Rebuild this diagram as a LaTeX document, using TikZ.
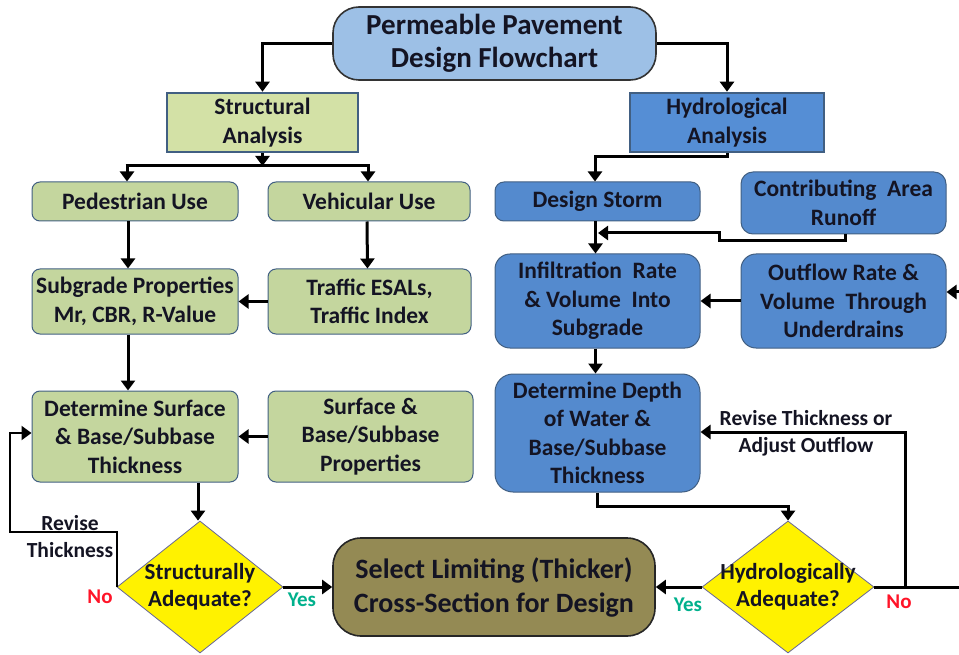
\documentclass[tikz,border=0pt]{standalone}
\usepackage{fontspec}
\setmainfont{Carlito}
\usetikzlibrary{shapes.geometric,arrows.meta}
\definecolor{titleblue}{RGB}{157,192,230}
\definecolor{lightgreen}{RGB}{211,225,166}
\definecolor{midgreen}{RGB}{196,214,158}
\definecolor{hydroblue}{RGB}{85,142,213}
\definecolor{boxblue}{RGB}{84,138,206}
\definecolor{olive}{RGB}{148,138,84}
\definecolor{edgeblue}{RGB}{65,95,130}
\definecolor{yesgreen}{RGB}{0,176,140}
\definecolor{nored}{RGB}{255,20,40}
\definecolor{ink}{RGB}{20,20,35}
\tikzset{
  base/.style={inner sep=0pt, align=center, font=\fontsize{23.5}{28.5}\selectfont\bfseries, text=ink},
  titlebox/.style={base, fill=titleblue, draw=black!80, line width=1.6pt, rounded corners=26pt,
     font=\fontsize{29}{33}\selectfont\bfseries},
  headgreen/.style={base, fill=lightgreen, draw=edgeblue, line width=2.6pt},
  headblue/.style={base, fill=hydroblue, draw=edgeblue, line width=2.6pt},
  greenbox/.style={base, fill=midgreen, draw=edgeblue, line width=1pt, rounded corners=8pt},
  bluebox/.style={base, fill=boxblue, draw=edgeblue, line width=1pt, rounded corners=12pt},
  selbox/.style={base, fill=olive, draw=black!85, line width=1.6pt, rounded corners=28pt,
     font=\fontsize{28}{34}\selectfont\bfseries},
  decide/.style={diamond, fill=yellow, draw=gray!80!blue, line width=0.8pt, inner sep=0pt},
  dtext/.style={align=center, inner sep=0pt, font=\fontsize{23}{27}\selectfont\bfseries, text=ink},
  arr/.style={line width=3pt, -{Triangle[width=14pt,length=10pt]}},
  conn/.style={line width=3pt},
  lbl/.style={align=center, inner sep=0pt, font=\fontsize{21.5}{27}\selectfont\bfseries, text=ink},
  yeslbl/.style={inner sep=0pt, font=\fontsize{21}{24}\selectfont\bfseries, text=yesgreen},
  nolbl/.style={inner sep=0pt, font=\fontsize{21}{24}\selectfont\bfseries, text=nored},
}
\begin{document}
\begin{tikzpicture}[x=1pt,y=-1pt]
\useasboundingbox (0,0) rectangle (959,655);
% top
\node[titlebox, minimum width=323pt, minimum height=73pt] (title) at (494.5,43.5) {Permeable Pavement\\Design Flowchart};
\node[headgreen, minimum width=191pt, minimum height=59pt] (struct) at (262.5,122.5) {Structural\\Analysis};
\node[headblue, minimum width=194pt, minimum height=59pt] (hydro) at (727,122.5) {Hydrological\\Analysis};
% structural side
\node[greenbox, minimum width=206pt, minimum height=39pt] (ped) at (135,201.5) {Pedestrian Use};
\node[greenbox, minimum width=202pt, minimum height=39pt] (veh) at (369,201.5) {Vehicular Use};
\node[greenbox, minimum width=206pt, minimum height=65pt] (sub) at (135,301.5) {Subgrade Properties\\Mr, CBR, R-Value};
\node[greenbox, minimum width=203pt, minimum height=65pt] (traf) at (369.5,301.5) {Traffic ESALs,\\Traffic Index};
\node[greenbox, minimum width=206pt, minimum height=91pt] (dsurf) at (135,436.5) {Determine Surface\\\& Base/Subbase\\Thickness};
\node[greenbox, minimum width=205pt, minimum height=91pt] (sprop) at (370.5,436.5) {Surface \&\\Base/Subbase\\Properties};
% hydrological side
\node[bluebox, rounded corners=9pt, minimum width=205pt, minimum height=39pt] (storm) at (597.5,201.5) {Design Storm};
\node[bluebox, minimum width=205pt, minimum height=62pt] (contrib) at (843.5,203) {Contributing\ \ Area\\Runoff};
\node[bluebox, rounded corners=15pt, minimum width=205pt, minimum height=94pt] (infil) at (597.5,301) {Infiltration\ \ Rate\\\& Volume\ \ Into\\Subgrade};
\node[bluebox, rounded corners=15pt, minimum width=205pt, minimum height=94pt] (outf) at (843.5,301) {Outflow Rate \&\\Volume\ \ Through\\Underdrains};
\node[bluebox, rounded corners=18pt, minimum width=205pt, minimum height=118pt] (depth) at (597.5,433) {Determine Depth\\of Water \&\\Base/Subbase\\Thickness};
% decisions and result
\node[decide, minimum width=166pt, minimum height=132pt, label={[dtext]center:Structurally\\Adequate?}] (sdia) at (200,587) {};
\node[decide, minimum width=172pt, minimum height=132pt, label={[dtext]center:Hydrologically\\Adequate?}] (hdia) at (788,587) {};
\node[selbox, minimum width=322pt, minimum height=98pt] (select) at (494,587) {Select Limiting (Thicker)\\Cross-Section for Design};
% coordinates
\coordinate (barL) at (127,166);
\coordinate (barR) at (368,166);
\coordinate (lpA) at (10,532);
\coordinate (lpB) at (10,433);
\coordinate (hbar) at (595,157);
\coordinate (cA) at (845,241);
\coordinate (cB) at (719,241);
\coordinate (cC) at (719,233);
\coordinate (cD) at (598,233);
\coordinate (lpC) at (905,587);
\coordinate (lpD) at (905,432);
\coordinate (edgeR) at (959,587);
\coordinate (edgeR2) at (959,292);
% connectors - top
\draw[arr] (title.west) -| (struct.north);
\draw[arr] (title.east) -| (hydro.north);
% structural
\draw[arr] (struct.south) -- (struct.south |- barL);
\draw[conn] ([xshift=-1.5pt]barL) -- ([xshift=1.5pt]barR);
\draw[arr] (barL) -- (barL |- ped.north);
\draw[arr] (barR) -- (barR |- veh.north);
\draw[arr] ([xshift=-7pt]ped.south) -- ([xshift=-7pt]sub.north);
\draw[arr] ([xshift=-2pt]veh.south) -- ([xshift=-2pt]traf.north);
\draw[arr] (traf.west) -- (sub.east);
\draw[arr] ([xshift=-7pt]sub.south) -- ([xshift=-7pt]dsurf.north);
\draw[arr] (sprop.west) -- (sprop.west -| dsurf.east);
\draw[arr] ([xshift=-2pt]sdia.north |- dsurf.south) -- ([xshift=-2pt]sdia.north);
\draw[arr] (sdia.east) -- (sdia.east -| select.west);
\draw[arr, line width=2.2pt] (sdia.west) |- (lpA) -- (lpB) -- (lpB -| dsurf.west);
% hydrological
\draw[arr] (hydro.south) |- (hbar) -- (hbar |- storm.north);
\draw[arr] ([xshift=-2pt]storm.south) -- ([xshift=-2pt]infil.north);
\draw[arr] (cA |- contrib.south) -- (cA) -- (cB) -- (cC) -- (cD);
\draw[arr] (outf.west) -- (outf.west -| infil.east);
\draw[arr] (edgeR2) -- (edgeR2 -| outf.east);
\draw[arr] ([xshift=-2pt]infil.south) -- ([xshift=-2pt]depth.north);
\draw[arr] (depth.south) -- ++(0,14) -| (hdia.north);
\draw[arr] (hdia.west) -- (hdia.west -| select.east);
\draw[conn] (hdia.east) -- (edgeR);
\draw[arr] (lpC) -- (lpD) -- (lpD -| depth.east);
% labels
\node[lbl] (revS) at (70,537) {Revise\\Thickness};
\node[lbl] (revH) at (806,433.5) {Revise Thickness or\\Adjust Outflow};
\node[nolbl] (noS) at (100,597) {No};
\node[yeslbl] (yesS) at (302,600) {Yes};
\node[yeslbl] (yesH) at (688,605) {Yes};
\node[nolbl] (noH) at (899,602) {No};
\end{tikzpicture}
\end{document}
